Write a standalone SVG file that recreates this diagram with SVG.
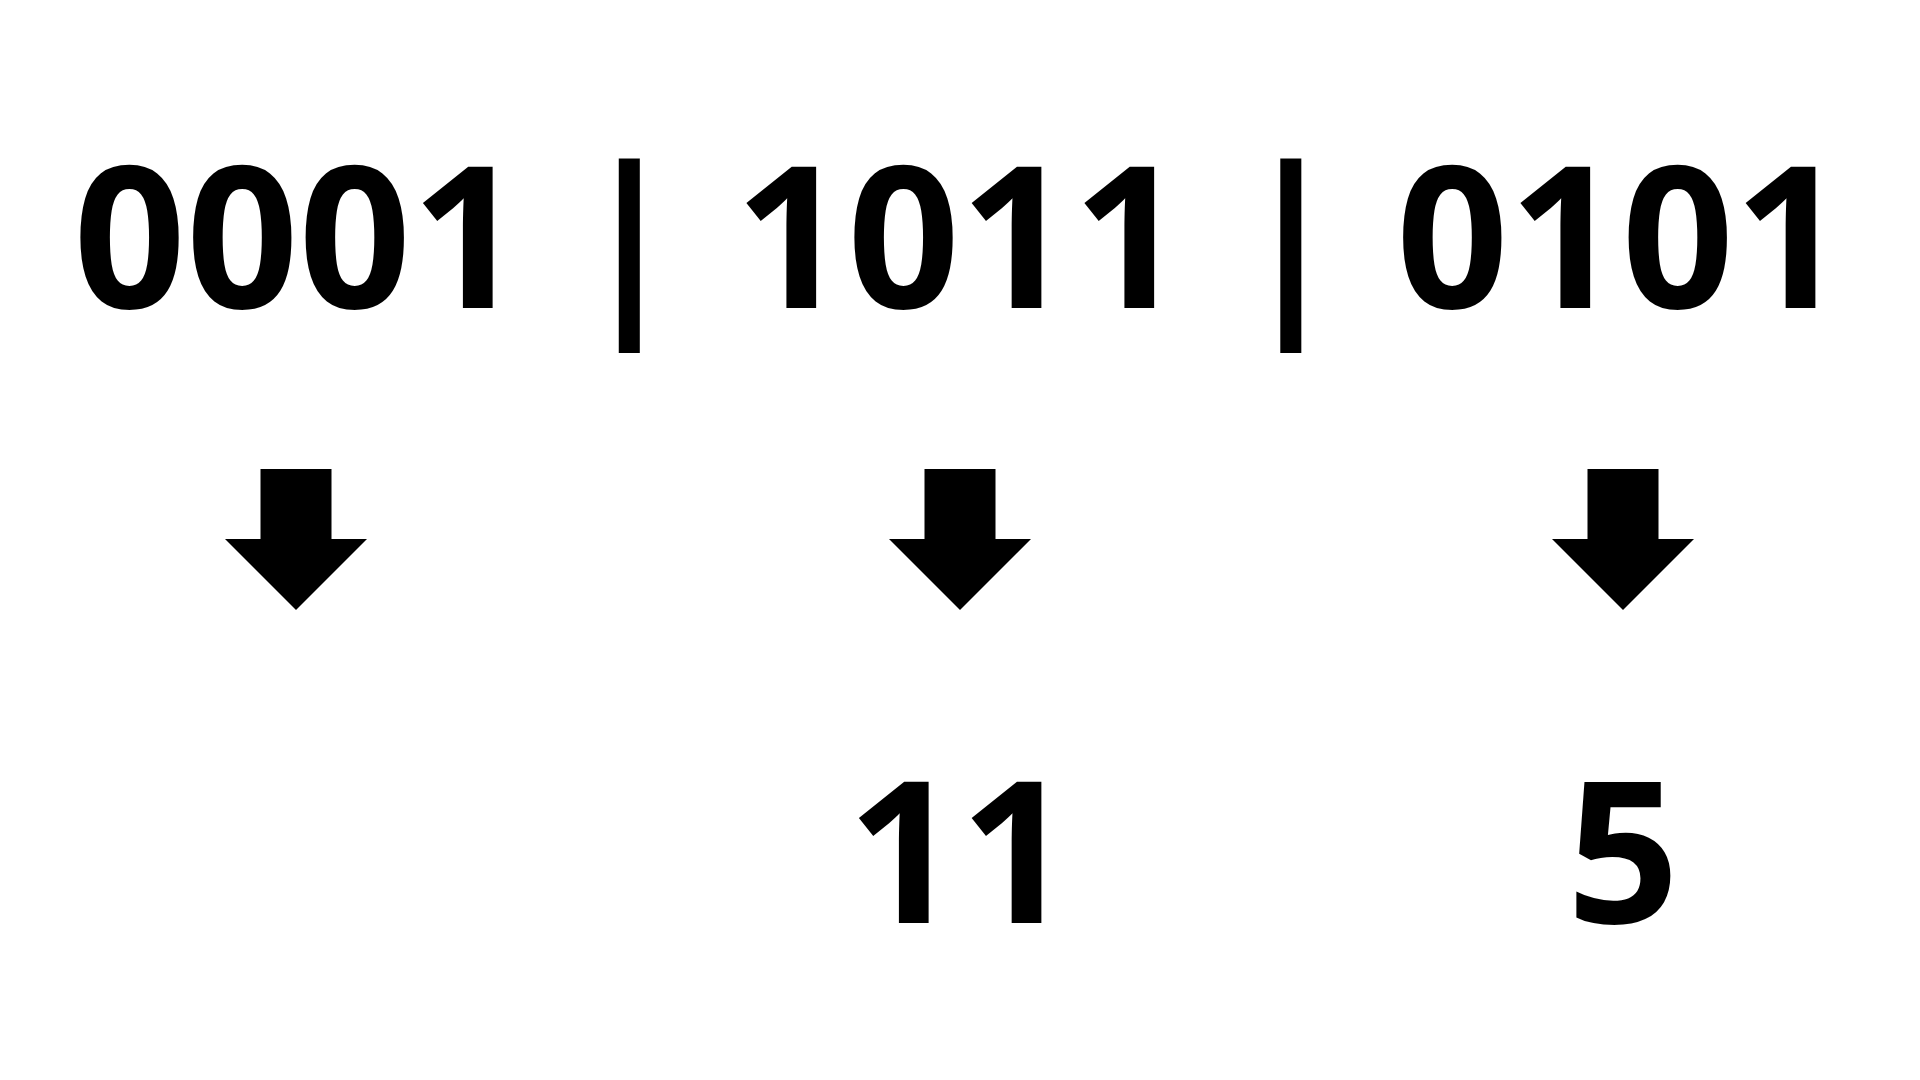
<svg xmlns="http://www.w3.org/2000/svg" width="1920" height="1080" viewBox="0 0 1920 1080">
<style>
.t{font-family:"Open Sans","Liberation Sans",sans-serif;font-weight:700;font-size:197px;fill:#000;text-anchor:middle}
.a{fill:#000}
</style>
<defs>
<path id="arr" d="M-35.5,0 H35.5 V70 H71 L0,141 L-71,70 H-35.5 Z"/>
</defs>
<rect width="1920" height="1080" fill="#fff"/>
<g id="bits"><text class="t" x="960" y="308" xml:space="preserve">0001 | 1011 | 0101</text></g>
<g id="connectors">
<use href="#arr" class="a" x="296" y="469"/>
<use href="#arr" class="a" x="960" y="469"/>
<use href="#arr" class="a" x="1623" y="469"/>
</g>
<g id="result-11"><text class="t" x="960" y="923">11</text></g>
<g id="result-5"><text class="t" x="1623" y="923">5</text></g>
</svg>
